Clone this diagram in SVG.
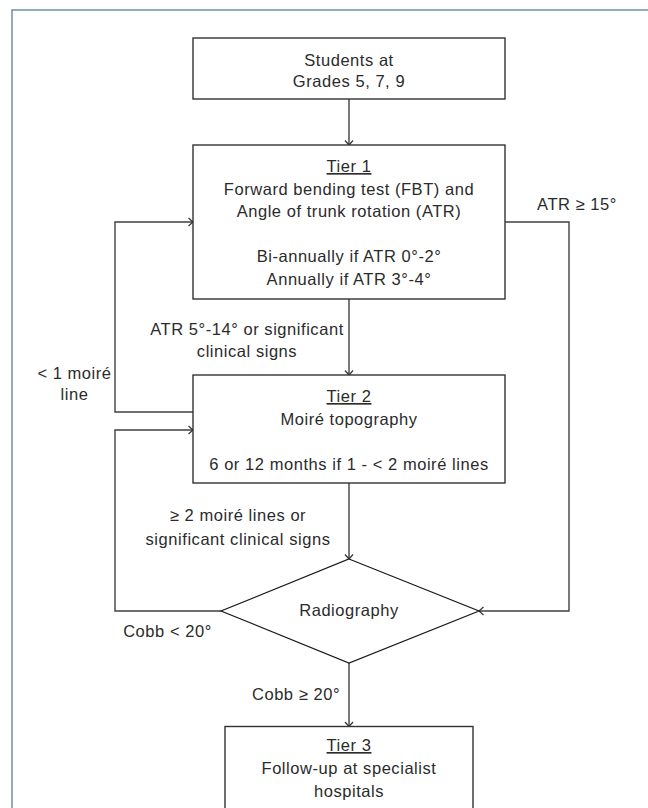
<svg xmlns="http://www.w3.org/2000/svg" width="648" height="808" viewBox="0 0 648 808">
<style>
text{font-family:"Liberation Sans",Arial,sans-serif;font-size:16.5px;fill:#2b2b2b;letter-spacing:0.55px}
.c{text-anchor:middle}
.u{text-decoration:underline}
.box{fill:#fff;stroke:#333;stroke-width:1.4}
.dia{fill:#fff;stroke:#1a1a1a;stroke-width:1.2}
.ln{fill:none;stroke:#404040;stroke-width:1.4;marker-end:url(#ah)}
.frame{fill:none;stroke:#6d8fb3;stroke-width:1.5}
</style>
<defs>
<marker id="ah" markerUnits="userSpaceOnUse" markerWidth="12" markerHeight="12" refX="0" refY="0" viewBox="-6 -6 12 12" orient="auto" overflow="visible">
<path d="M-4.5,-4 L0,0 L-4.5,4" fill="none" stroke="#333" stroke-width="1.2"/>
</marker>
</defs>
<rect width="648" height="808" fill="#fff"/>
<rect class="frame" x="12" y="10" width="700" height="850"/>
<g id="connectors">
<path class="ln" d="M349,99 L349,145"/>
<path class="ln" d="M349,299 L349,375"/>
<path class="ln" d="M193,412 L115,412 L115,222 L193,222"/>
<path class="ln" d="M221,611 L115,611 L115,430 L193,430"/>
<path class="ln" d="M505,222 L569,222 L569,611 L479,611"/>
<path class="ln" d="M349,483 L349,559"/>
<path class="ln" d="M349,663 L349,726.5"/>
</g>
<g id="students">
<rect class="box" x="193" y="38" width="312" height="61"/>
<text class="c" x="349" y="65.5">Students at</text>
<text class="c" x="349" y="87">Grades 5, 7, 9</text>
</g>
<g id="tier1">
<rect class="box" x="193" y="145" width="312" height="154"/>
<text class="c u" x="349" y="172">Tier 1</text>
<text class="c" x="349" y="194.5">Forward bending test (FBT) and</text>
<text class="c" x="349" y="216.5">Angle of trunk rotation (ATR)</text>
<text class="c" x="349" y="261.5">Bi-annually if ATR 0°-2°</text>
<text class="c" x="349" y="285">Annually if ATR 3°-4°</text>
</g>
<g id="tier2">
<rect class="box" x="193" y="375" width="312" height="108"/>
<text class="c u" x="349" y="402">Tier 2</text>
<text class="c" x="349" y="425">Moiré topography</text>
<text class="c" x="349" y="469.5">6 or 12 months if 1 - &lt; 2 moiré lines</text>
</g>
<g id="radiography">
<polygon class="dia" points="349,559 479,611 349,663 221,611"/>
<text class="c" x="349" y="616">Radiography</text>
</g>
<g id="tier3">
<rect class="box" x="225" y="726.5" width="248" height="110"/>
<text class="c u" x="349" y="751">Tier 3</text>
<text class="c" x="349" y="774">Follow-up at specialist</text>
<text class="c" x="349" y="796.5">hospitals</text>
</g>
<g id="labels">
<text class="c" x="577" y="210">ATR ≥ 15°</text>
<text class="c" x="247" y="334.5">ATR 5°-14° or significant</text>
<text class="c" x="247" y="356.5">clinical signs</text>
<text class="c" x="74.5" y="379">&lt; 1 moiré</text>
<text class="c" x="74.5" y="400">line</text>
<text class="c" x="238" y="521">≥ 2 moiré lines or</text>
<text class="c" x="238" y="544.5">significant clinical signs</text>
<text class="c" x="167.5" y="636.5">Cobb &lt; 20°</text>
<text class="c" x="296" y="699.5">Cobb ≥ 20°</text>
</g>
</svg>
